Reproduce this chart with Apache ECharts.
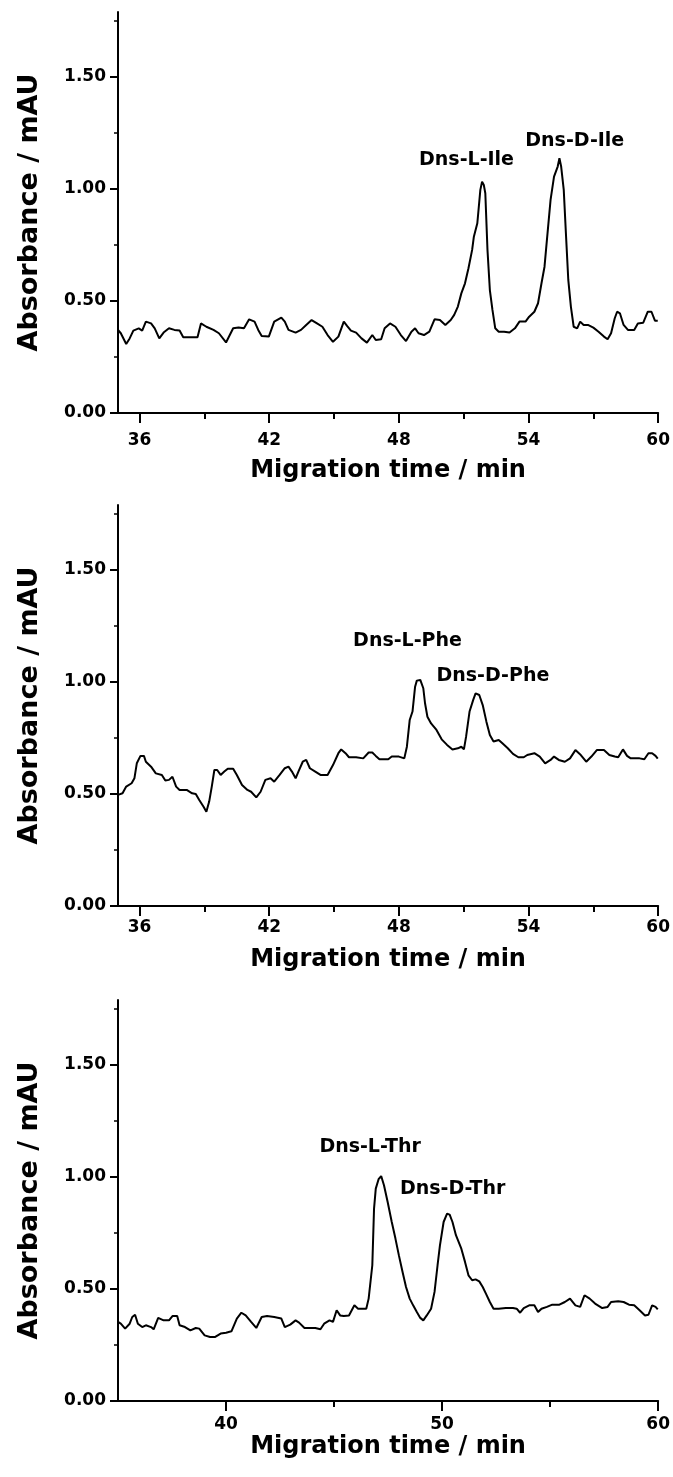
<!DOCTYPE html>
<html>
<head>
<meta charset="utf-8">
<script src="https://cdn.jsdelivr.net/npm/echarts@6/dist/echarts.min.js"></script>
<style>
  html, body { margin: 0; padding: 0; background: #fff; }
  #chart { width: 673px; height: 1477px; }
</style>
</head>
<body>
<div id="chart"></div>
<script>
// 전기영동 크로마토그램 3개 (Ile / Phe / Thr), 그림에서 읽은 값
const T_ILE = [35.00,35.13,35.38,35.54,35.71,35.96,36.12,36.29,36.53,36.70,36.91,37.11,37.36,37.61,37.85,38.02,38.68,38.84,39.09,39.42,39.67,40.00,40.33,40.58,40.83,41.07,41.32,41.49,41.65,41.98,42.23,42.56,42.72,42.89,43.22,43.47,43.71,43.96,44.21,44.46,44.70,44.95,45.20,45.45,45.61,45.78,46.02,46.27,46.52,46.77,46.93,47.18,47.34,47.59,47.84,48.09,48.33,48.58,48.75,48.91,49.16,49.41,49.65,49.90,50.15,50.40,50.56,50.73,50.89,51.06,51.22,51.39,51.47,51.63,51.77,51.85,51.93,52.00,52.10,52.21,52.33,52.46,52.62,52.87,53.12,53.37,53.58,53.86,54.03,54.27,54.44,54.60,54.74,54.85,55.02,55.18,55.35,55.43,55.51,55.63,55.73,55.84,55.96,56.09,56.25,56.39,56.55,56.75,57.00,57.24,57.49,57.66,57.82,57.99,58.10,58.23,58.40,58.60,58.89,59.06,59.31,59.52,59.69,59.85,59.98];
const A_ILE = [0.371,0.356,0.308,0.333,0.368,0.378,0.368,0.408,0.400,0.378,0.333,0.359,0.378,0.371,0.368,0.338,0.338,0.400,0.385,0.371,0.356,0.315,0.378,0.382,0.378,0.418,0.408,0.371,0.344,0.341,0.408,0.426,0.408,0.371,0.359,0.371,0.393,0.415,0.400,0.385,0.348,0.318,0.341,0.408,0.388,0.368,0.359,0.333,0.314,0.348,0.326,0.329,0.378,0.400,0.385,0.348,0.321,0.363,0.378,0.356,0.348,0.363,0.418,0.415,0.393,0.415,0.438,0.475,0.534,0.579,0.646,0.728,0.787,0.847,0.996,1.033,1.018,0.981,0.728,0.549,0.460,0.378,0.363,0.363,0.359,0.378,0.408,0.408,0.430,0.452,0.490,0.579,0.653,0.772,0.951,1.055,1.100,1.137,1.100,0.996,0.802,0.594,0.475,0.385,0.378,0.408,0.393,0.393,0.381,0.363,0.341,0.329,0.356,0.423,0.452,0.445,0.393,0.371,0.371,0.400,0.403,0.452,0.452,0.412,0.412];

const T_PHE = [35.00,35.21,35.38,35.63,35.76,35.87,36.04,36.20,36.29,36.53,36.75,37.03,37.19,37.36,37.52,37.69,37.85,38.18,38.43,38.60,38.76,38.96,39.09,39.22,39.34,39.46,39.59,39.75,39.92,40.08,40.33,40.50,40.74,40.99,41.16,41.40,41.60,41.82,42.06,42.23,42.48,42.72,42.89,43.05,43.22,43.35,43.55,43.71,43.88,44.13,44.37,44.70,44.95,45.20,45.33,45.53,45.69,46.02,46.35,46.60,46.77,46.93,47.10,47.51,47.67,48.00,48.25,48.37,48.50,48.63,48.75,48.83,48.99,49.13,49.21,49.32,49.49,49.74,49.98,50.23,50.48,50.73,50.89,51.01,51.11,51.27,51.44,51.55,51.72,51.88,52.05,52.21,52.38,52.62,52.79,53.04,53.28,53.53,53.78,53.94,54.27,54.52,54.77,55.02,55.18,55.40,55.68,55.92,56.17,56.42,56.67,56.91,57.16,57.49,57.74,57.99,58.15,58.37,58.56,58.73,59.14,59.36,59.55,59.72,59.88,59.98];
const A_PHE = [0.496,0.503,0.533,0.548,0.570,0.637,0.670,0.670,0.644,0.622,0.592,0.585,0.560,0.563,0.577,0.533,0.518,0.518,0.503,0.500,0.473,0.443,0.421,0.466,0.533,0.607,0.607,0.585,0.600,0.613,0.613,0.585,0.540,0.518,0.510,0.485,0.510,0.563,0.570,0.555,0.585,0.615,0.622,0.600,0.570,0.600,0.644,0.652,0.615,0.600,0.585,0.585,0.629,0.682,0.699,0.682,0.664,0.664,0.659,0.685,0.685,0.670,0.655,0.655,0.667,0.667,0.659,0.711,0.830,0.868,0.979,1.006,1.009,0.972,0.905,0.845,0.815,0.786,0.744,0.719,0.699,0.704,0.711,0.699,0.756,0.868,0.920,0.949,0.942,0.897,0.823,0.763,0.734,0.741,0.726,0.704,0.679,0.664,0.664,0.674,0.682,0.667,0.637,0.652,0.667,0.652,0.644,0.659,0.696,0.674,0.644,0.667,0.696,0.696,0.674,0.667,0.664,0.699,0.670,0.659,0.659,0.655,0.682,0.682,0.670,0.658];

const T_THR = [35.00,35.13,35.33,35.54,35.66,35.79,35.92,36.12,36.29,36.53,36.65,36.86,37.11,37.36,37.52,37.74,37.85,38.10,38.35,38.60,38.76,39.01,39.26,39.50,39.75,40.00,40.25,40.50,40.71,40.91,41.16,41.40,41.65,41.90,42.23,42.56,42.72,42.97,43.22,43.38,43.63,44.13,44.37,44.54,44.79,44.95,45.12,45.28,45.45,45.69,45.94,46.11,46.49,46.60,46.77,46.85,46.93,47.06,47.18,47.31,47.48,47.67,47.84,48.00,48.17,48.33,48.50,48.66,48.83,48.99,49.13,49.29,49.49,49.65,49.79,49.90,50.07,50.23,50.35,50.48,50.64,50.89,51.06,51.22,51.39,51.55,51.72,51.88,52.05,52.21,52.38,52.62,52.95,53.28,53.45,53.61,53.78,54.03,54.27,54.44,54.60,54.85,55.10,55.43,55.68,55.92,56.17,56.39,56.59,56.83,57.08,57.41,57.66,57.82,58.15,58.40,58.65,58.89,59.14,59.39,59.55,59.72,59.88,59.98];
const A_THR = [0.353,0.345,0.323,0.345,0.375,0.385,0.345,0.330,0.338,0.330,0.320,0.371,0.360,0.360,0.379,0.379,0.338,0.330,0.315,0.326,0.323,0.293,0.286,0.286,0.301,0.305,0.311,0.368,0.394,0.382,0.353,0.326,0.375,0.379,0.375,0.368,0.330,0.341,0.360,0.350,0.326,0.326,0.320,0.345,0.360,0.353,0.405,0.382,0.379,0.382,0.427,0.412,0.412,0.457,0.606,0.859,0.948,0.990,1.004,0.963,0.888,0.799,0.725,0.650,0.576,0.509,0.457,0.427,0.397,0.371,0.360,0.382,0.412,0.487,0.606,0.695,0.799,0.836,0.832,0.799,0.740,0.680,0.621,0.561,0.539,0.543,0.534,0.509,0.475,0.442,0.412,0.412,0.415,0.415,0.412,0.394,0.415,0.427,0.427,0.397,0.412,0.420,0.430,0.430,0.442,0.457,0.427,0.420,0.472,0.457,0.435,0.415,0.420,0.442,0.445,0.442,0.430,0.427,0.405,0.382,0.385,0.427,0.420,0.409];

// 피크 이름과 라벨 기준점 (분, mAU)
const ILE_NAMES = ["Dns-L-Ile", "Dns-D-Ile"];
const ILE_AT = [[51.13, 1.129], [56.14, 1.214]];
const PHE_NAMES = ["Dns-L-Phe", "Dns-D-Phe"];
const PHE_AT = [[48.40, 1.183], [52.35, 1.027]];
const THR_NAMES = ["Dns-L-Thr", "Dns-D-Thr"];
const THR_AT = [[46.67, 1.132], [50.49, 0.944]];

// 눈금
const X_MAJOR_6 = [36, 42, 48, 54, 60];
const X_MINOR_6 = [39, 45, 51, 57];
const X_MAJOR_10 = [40, 50, 60];
const X_MINOR_10 = [45, 55];
const Y_MAJOR = [0, 0.5, 1.0, 1.5];
const Y_MINOR = [0.25, 0.75, 1.25, 1.75];

const X_MIN = 35, X_MAX = 60, Y_MAX = 1.79;
const FONT = "DejaVu Sans";

const panels = [
  { t: T_ILE, a: A_ILE, names: ILE_NAMES, at: ILE_AT, major: X_MAJOR_6, minor: X_MINOR_6, top: 12, labelMargin: 19, nameGap: 46 },
  { t: T_PHE, a: A_PHE, names: PHE_NAMES, at: PHE_AT, major: X_MAJOR_6, minor: X_MINOR_6, top: 505, labelMargin: 13, nameGap: 42 },
  { t: T_THR, a: A_THR, names: THR_NAMES, at: THR_AT, major: X_MAJOR_10, minor: X_MINOR_10, top: 1000, labelMargin: 15, nameGap: 34 },
];

const chart = echarts.init(document.getElementById("chart"));

const grid = [], xAxis = [], yAxis = [], series = [];

panels.forEach((p, i) => {
  grid.push({ left: 118, top: p.top, width: 544, height: 401 });

  // 주 눈금 + 라벨
  xAxis.push({
    type: "value", gridIndex: i, min: X_MIN, max: X_MAX, position: "bottom",
    name: "Migration time / min", nameLocation: "middle", nameGap: p.nameGap,
    nameTextStyle: { fontFamily: FONT, fontWeight: "bold", fontSize: 24, color: "#000" },
    axisLine: { onZero: false, lineStyle: { color: "#000", width: 2 } },
    axisTick: { customValues: p.major, length: 10, lineStyle: { color: "#000", width: 2 } },
    axisLabel: { customValues: p.major, margin: p.labelMargin, fontFamily: FONT, fontWeight: "bold", fontSize: 17, color: "#000" },
    splitLine: { show: false },
  });
  // 보조 눈금
  xAxis.push({
    type: "value", gridIndex: i, min: X_MIN, max: X_MAX, position: "bottom",
    axisLine: { show: false, onZero: false },
    axisTick: { customValues: p.minor, length: 6, lineStyle: { color: "#000", width: 2 } },
    axisLabel: { show: false },
    splitLine: { show: false },
  });

  yAxis.push({
    type: "value", gridIndex: i, min: 0, max: Y_MAX, position: "left",
    name: "Absorbance / mAU", nameLocation: "middle", nameGap: 75, nameRotate: 90,
    nameTextStyle: { fontFamily: FONT, fontWeight: "bold", fontSize: 27, color: "#000" },
    axisLine: { show: true, onZero: false, lineStyle: { color: "#000", width: 2 } },
    axisTick: { show: true, customValues: Y_MAJOR, length: 8, lineStyle: { color: "#000", width: 2 } },
    axisLabel: { customValues: Y_MAJOR, margin: 12, formatter: v => v.toFixed(2),
      fontFamily: FONT, fontWeight: "bold", fontSize: 17, color: "#000" },
    splitLine: { show: false },
  });
  yAxis.push({
    type: "value", gridIndex: i, min: 0, max: Y_MAX, position: "left",
    axisLine: { show: false, onZero: false },
    axisTick: { show: true, customValues: Y_MINOR, length: 4, lineStyle: { color: "#000", width: 1.5 } },
    axisLabel: { show: false },
    splitLine: { show: false },
  });

  series.push({
    type: "line", xAxisIndex: i * 2, yAxisIndex: i * 2,
    showSymbol: false, silent: true,
    lineStyle: { color: "#000", width: 2 },
    data: p.t.map((t, k) => [t, p.a[k]]),
  });

  series.push({
    type: "scatter", xAxisIndex: i * 2, yAxisIndex: i * 2,
    symbolSize: 0, silent: true,
    itemStyle: { color: "transparent" },
    label: {
      show: true, position: "inside", formatter: ({ dataIndex }) => p.names[dataIndex],
      fontFamily: FONT, fontWeight: "bold", fontSize: 19, color: "#000",
      textBorderWidth: 0, opacity: 1,
    },
    data: p.at,
  });
});

chart.setOption({
  animation: false,
  grid, xAxis, yAxis, series,
});
</script>
</body>
</html>
